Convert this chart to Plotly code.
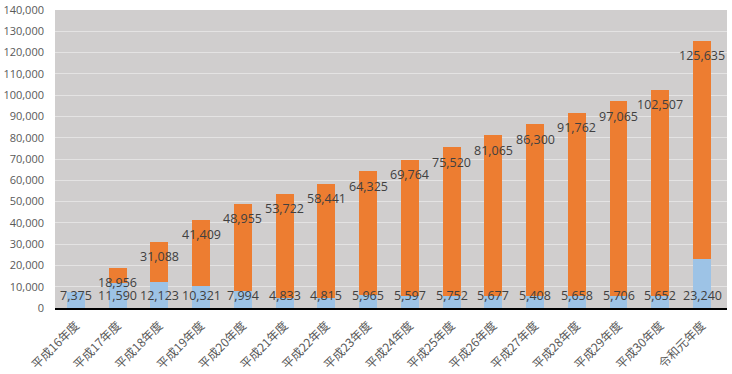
import plotly.graph_objects as go

categories = ["平成16年度", "平成17年度", "平成18年度", "平成19年度", "平成20年度",
              "平成21年度", "平成22年度", "平成23年度", "平成24年度", "平成25年度",
              "平成26年度", "平成27年度", "平成28年度", "平成29年度", "平成30年度",
              "令和元年度"]
annual = [7375, 11590, 12123, 10321, 7994, 4833, 4815, 5965, 5597, 5752,
          5677, 5408, 5658, 5706, 5652, 23240]
cumulative = [7375, 18956, 31088, 41409, 48955, 53722, 58441, 64325, 69764, 75520,
              81065, 86300, 91762, 97065, 102507, 125635]
y_ticks = list(range(0, 140001, 10000))

orange = [c - a for c, a in zip(cumulative, annual)]

fig = go.Figure()
fig.add_trace(go.Bar(x=categories, y=annual, marker_color="#9DC3E6",
                     marker_line_width=0, name="年度"))
fig.add_trace(go.Bar(x=categories, y=orange, marker_color="#ED7D31",
                     marker_line_width=0, name="累計"))

label_font = dict(family="Open Sans, DejaVu Sans, sans-serif", size=12.5, color="#404040")
for i, (c, a, t) in enumerate(zip(categories, annual, cumulative)):
    fig.add_annotation(x=c, y=0, text=f"{a:,}", showarrow=False, yshift=13,
                       font=label_font)
    if i > 0:
        fig.add_annotation(x=c, y=t, text=f"{t:,}", showarrow=False, yshift=-15,
                           font=label_font)

fig.update_layout(
    barmode="stack",
    bargap=0.57,
    width=732, height=374,
    margin=dict(l=55, r=5, t=10, b=66, autoexpand=False),
    plot_bgcolor="#D0CECE",
    paper_bgcolor="white",
    showlegend=False,
    font=dict(family="Noto Sans CJK JP, sans-serif", color="#595959", size=11),
)
fig.update_yaxes(range=[0, 140000], tickvals=y_ticks,
                 ticktext=[f"{v:,}" for v in y_ticks],
                 gridcolor="#E4E3E3", gridwidth=1, zeroline=False,
                 tickfont=dict(family="Open Sans, sans-serif", size=11, color="#595959"),
                 ticks="", showline=False, automargin=False, ticklabelstandoff=10)
fig.update_xaxes(tickangle=-45, showline=True, linecolor="black", linewidth=1.5,
                 tickfont=dict(family="Noto Sans CJK JP, sans-serif", size=12, color="#595959"),
                 ticks="", automargin=False, ticklabelstandoff=4)

fig.write_html("out.html", config={"displayModeBar": False},
               post_script="document.body.style.margin='0';document.body.style.overflow='hidden';")
